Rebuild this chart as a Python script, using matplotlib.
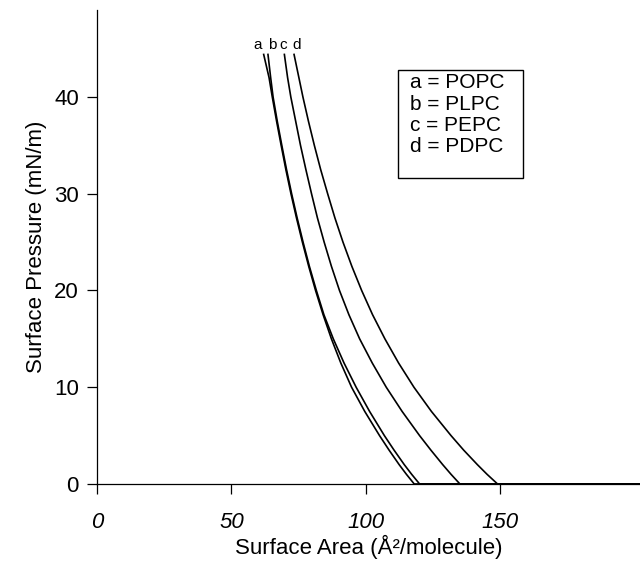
"""
Surface pressure-area isotherms for four phosphatidylcholines.
"""

import matplotlib
matplotlib.use("Agg")
import matplotlib.pyplot as plt
from matplotlib.patches import Rectangle

plt.rcParams['font.family'] = ['Liberation Sans', 'DejaVu Sans']

# pressure levels (mN/m) at which the areas were read
pressure = [44.4, 42, 40, 37.5, 35, 32.5, 30, 27.5, 25, 22.5, 20, 17.5,
            15, 12.5, 10, 7.5, 5, 3.5, 2, 1, 0, 0]

# areas (A^2/molecule) for each lipid at the pressure levels above
area_a = [62.0, 64.0, 65.2, 66.8, 68.5, 70.25, 72.15, 74.2, 76.4, 78.75, 81.3, 84.1,
          87.2, 90.7, 94.7, 99.6, 105.1, 108.65, 112.4, 115.1, 118.0, 205]
area_b = [63.6, 64.6, 65.5, 67.05, 68.75, 70.5, 72.4, 74.45, 76.65, 79.0, 81.6, 84.4,
          87.9, 91.9, 96.4, 101.4, 106.9, 110.5, 114.3, 117.05, 120.0, 205]
area_c = [69.7, 70.9, 72.1, 73.9, 75.7, 77.7, 79.8, 82.0, 84.5, 87.2, 90.2, 93.7,
          97.7, 102.4, 107.6, 113.5, 120.0, 124.2, 128.6, 131.7, 135.0, 205]
area_d = [73.3, 75.1, 76.6, 78.65, 80.85, 83.2, 85.8, 88.5, 91.5, 94.8, 98.45, 102.5,
          107.1, 112.2, 117.9, 124.4, 131.7, 136.4, 141.5, 145.1, 149.0, 205]

curve_labels = ["a", "b", "c", "d"]
label_x = [59.9, 65.1, 69.2, 74.4]
legend_lines = ["a = POPC", "b = PLPC", "c = PEPC", "d = PDPC"]

x_ticks = [0, 50, 100, 150]
y_ticks = [0, 10, 20, 30, 40]

fig = plt.figure(figsize=(6.4, 5.61), dpi=100)
ax = fig.add_axes([0.1516, 0.1373, 0.8484, 0.845])

for xs in (area_a, area_b, area_c, area_d):
    ax.plot(xs, pressure, color="black", lw=1.2, solid_joinstyle="round")

ax.set_xlim(0, 202)
ax.set_ylim(0, 49)

for s in ("top", "right"):
    ax.spines[s].set_visible(False)
for s in ("left", "bottom"):
    ax.spines[s].set_linewidth(0.9)

ax.set_xticks(x_ticks)
ax.set_yticks(y_ticks)
ax.tick_params(direction="out", length=7, width=0.9, labelsize=16, pad=6)
ax.tick_params(axis="x", pad=13)
for lab in ax.get_xticklabels():
    lab.set_style("italic")

ax.set_xlabel("Surface Area (Å²/molecule)", fontsize=16, labelpad=1.5)
ax.set_ylabel("Surface Pressure (mN/m)", fontsize=16, labelpad=5)

for lab, x in zip(curve_labels, label_x):
    ax.text(x, 44.7, lab, fontsize=11, ha="center", va="bottom")

# legend box drawn by hand, like the printed key
ax.add_patch(Rectangle((0.554, 0.646), 0.231, 0.227, transform=ax.transAxes,
                       fill=False, ec="black", lw=1.0))
for i, line in enumerate(legend_lines):
    ax.text(0.576, 0.846 - i * 0.045, line, transform=ax.transAxes,
            fontsize=15, va="center", ha="left")

fig.savefig("out.png", dpi=100)
